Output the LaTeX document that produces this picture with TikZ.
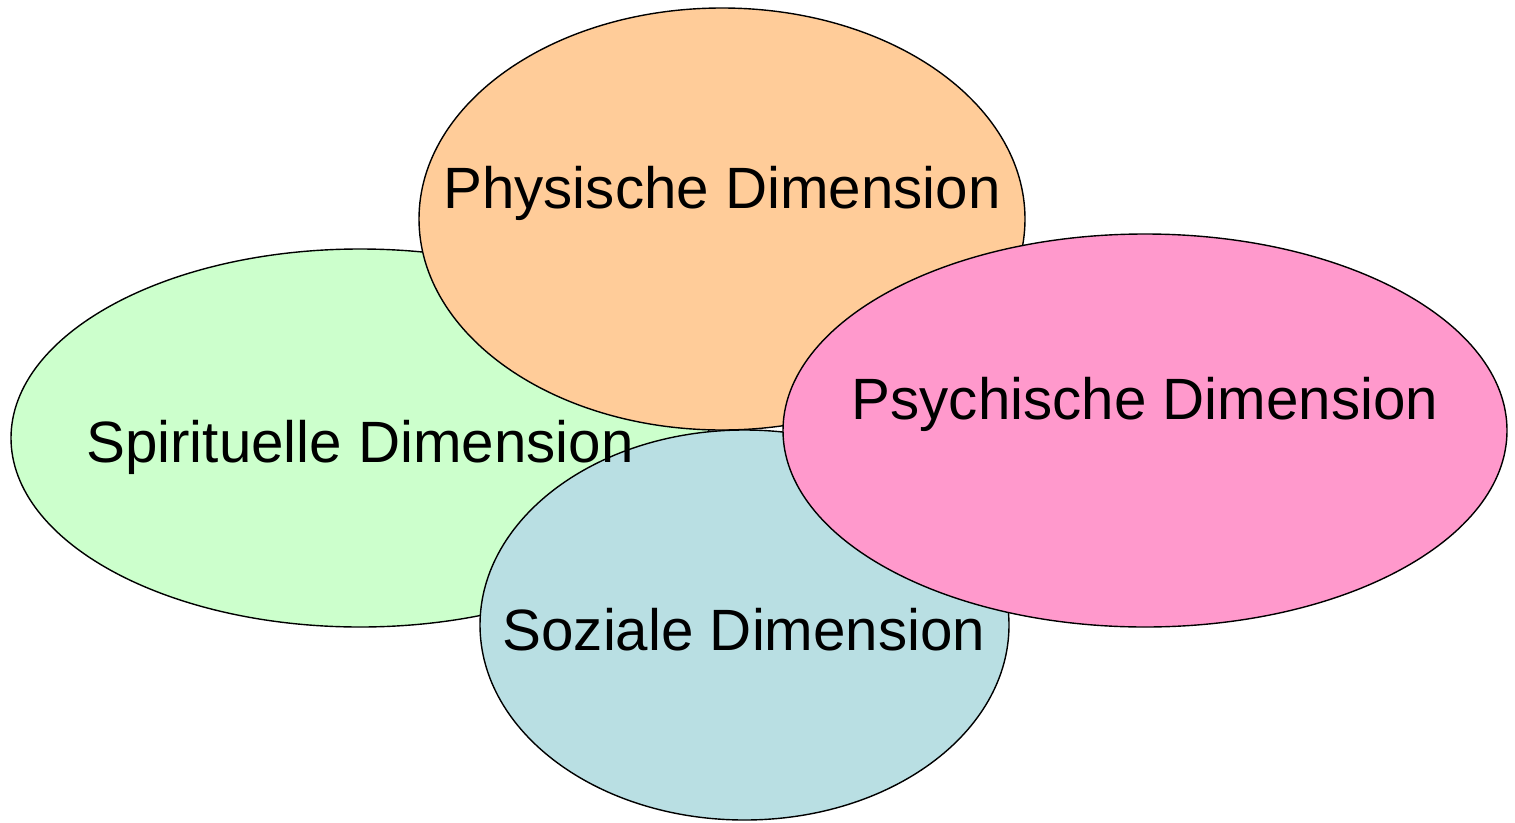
\documentclass[tikz,border=0pt]{standalone}
\usepackage{fontspec}
\setmainfont{Liberation Sans}
\usetikzlibrary{shapes.geometric}

\definecolor{spiritgreen}{HTML}{CCFFCC}
\definecolor{physorange}{HTML}{FFCC99}
\definecolor{sozblue}{HTML}{B9DFE3}
\definecolor{psychpink}{HTML}{FF99CC}

\tikzset{
  dim/.style={ellipse,draw,line width=1.4pt,inner sep=0pt},
  dimlabel/.style={anchor=base,inner sep=0pt,font=\fontsize{58.3}{70}\selectfont}
}

\begin{document}
\begin{tikzpicture}[x=1pt,y=-1pt]
\useasboundingbox (0,0) rectangle (1515,822);
% ellipses, back to front
\node [dim,fill=spiritgreen,minimum width=698pt,minimum height=378pt] (spirit) at (360,438) {};
\node [dim,fill=physorange,minimum width=606pt,minimum height=422pt] (phys) at (722,219) {};
\node [dim,fill=sozblue,minimum width=529pt,minimum height=390pt] (sozial) at (744.5,625) {};
\node [dim,fill=psychpink,minimum width=724pt,minimum height=393pt] (psych) at (1145,430.5) {};
% labels on top
\node [dimlabel] (spiritlabel) at (360,462) {Spirituelle Dimension};
\node [dimlabel] (physlabel) at (722,208) {Physische Dimension};
\node [dimlabel] (sozlabel) at (744,650) {Soziale Dimension};
\node [dimlabel] (psychlabel) at (1145,419) {Psychische Dimension};
\end{tikzpicture}
\end{document}
